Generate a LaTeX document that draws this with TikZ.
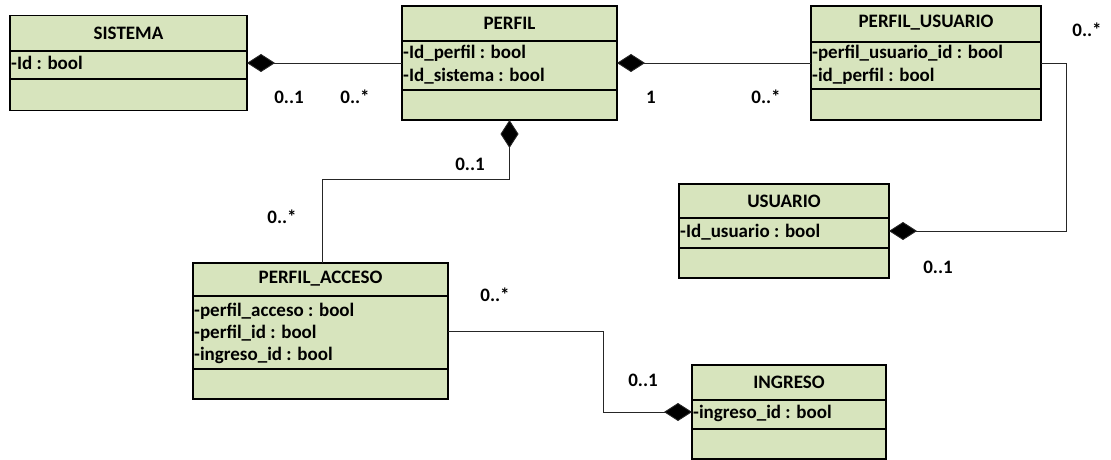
\documentclass[tikz,border=0pt]{standalone}
\usepackage{fontspec}
\setmainfont{Carlito}
\usetikzlibrary{arrows.meta}
\definecolor{boxfill}{HTML}{D7E4BD}
\definecolor{lineclr}{HTML}{262626}
\tikzset{
  cls/.style={draw=black, fill=boxfill, line width=1.4pt, inner sep=0pt, outer sep=0pt, anchor=north west},
  sepline/.style={draw=black, line width=1.4pt},
  ttl/.style={font=\fontsize{19}{22}\selectfont\bfseries, inner sep=0pt},
  attr/.style={font=\fontsize{19}{22}\selectfont\bfseries, inner sep=0pt, anchor=west, text height=13pt, text depth=4pt},
  mult/.style={font=\fontsize{19}{22}\selectfont\bfseries, inner sep=0pt},
  conn/.style={draw=lineclr, line width=0.9pt},
  compstart/.style={conn, {Diamond[length=28pt,width=18pt,fill=black]}-},
  compend/.style={conn, -{Diamond[length=28pt,width=18pt,fill=black]}},
}
\begin{document}
\begin{tikzpicture}[x=1pt,y=-1pt]
\useasboundingbox (0,0) rectangle (1111,460);
% SISTEMA
\node[cls, minimum width=237pt, minimum height=95pt] (sis) at (10,15.5) {};
\draw[sepline] (sis.west |- 0,51) -- (sis.east |- 0,51);
\draw[sepline] (sis.west |- 0,79) -- (sis.east |- 0,79);
\node[ttl] (sisT) at (128.5,33) {SISTEMA};
\node[attr] (sisA1) at (11,65) {-Id : bool};
% PERFIL
\node[cls, minimum width=215pt, minimum height=114pt] (per) at (402,6) {};
\draw[sepline] (per.west |- 0,41) -- (per.east |- 0,41);
\draw[sepline] (per.west |- 0,90) -- (per.east |- 0,90);
\node[ttl] (perT) at (509.5,23) {PERFIL};
\node[attr] (perA1) at (403,54) {-Id\_perfil : bool};
\node[attr] (perA2) at (403,77) {-Id\_sistema : bool};
% PERFIL_USUARIO
\node[cls, minimum width=230pt, minimum height=114pt] (pu) at (811,6) {};
\draw[sepline] (pu.west |- 0,42) -- (pu.east |- 0,42);
\draw[sepline] (pu.west |- 0,89) -- (pu.east |- 0,89);
\node[ttl] (puT) at (926,23) {PERFIL\_USUARIO};
\node[attr] (puA1) at (812,54) {-perfil\_usuario\_id : bool};
\node[attr] (puA2) at (812,77) {-id\_perfil : bool};
% USUARIO
\node[cls, minimum width=210pt, minimum height=94pt] (usu) at (679,184) {};
\draw[sepline] (usu.west |- 0,218) -- (usu.east |- 0,218);
\draw[sepline] (usu.west |- 0,248) -- (usu.east |- 0,248);
\node[ttl] (usuT) at (784,201) {USUARIO};
\node[attr] (usuA1) at (680,233) {-Id\_usuario : bool};
% PERFIL_ACCESO
\node[cls, minimum width=255pt, minimum height=136pt] (pac) at (193,263) {};
\draw[sepline] (pac.west |- 0,296) -- (pac.east |- 0,296);
\draw[sepline] (pac.west |- 0,369) -- (pac.east |- 0,369);
\node[ttl] (pacT) at (320.5,279) {PERFIL\_ACCESO};
\node[attr] (pacA1) at (194,312) {-perfil\_acceso : bool};
\node[attr] (pacA2) at (194,334) {-perfil\_id : bool};
\node[attr] (pacA3) at (194,356) {-ingreso\_id : bool};
% INGRESO
\node[cls, minimum width=194pt, minimum height=94pt] (ing) at (692,365) {};
\draw[sepline] (ing.west |- 0,400) -- (ing.east |- 0,400);
\draw[sepline] (ing.west |- 0,429) -- (ing.east |- 0,429);
\node[ttl] (ingT) at (789,382) {INGRESO};
\node[attr] (ingA1) at (693,414) {-ingreso\_id : bool};
% connectors
\coordinate (k1) at (322,179);
\coordinate (k2) at (1066,63);
\coordinate (k3) at (603,331);
\draw[compstart] (sis.east) -- (per.west);
\draw[compstart] (per.east) -- (pu.west);
\draw[compstart] (per.south) |- (k1) -- (k1 |- pac.north);
\draw[compend] (pu.east |- k2) -- (k2) |- (usu.east);
\draw[compend] (pac.east) -- (k3) |- (ing.west);
% multiplicities
\node[mult] (m1) at (289,97) {0..1};
\node[mult] (m2) at (355,97) {0..*};
\node[mult] (m3) at (651,97) {1};
\node[mult] (m4) at (766,97) {0..*};
\node[mult] (m5) at (470,164) {0..1};
\node[mult] (m6) at (282,217) {0..*};
\node[mult] (m7) at (1087,30) {0..*};
\node[mult] (m8) at (938,267) {0..1};
\node[mult] (m9) at (495,295) {0..*};
\node[mult] (m10) at (643,380) {0..1};
\end{tikzpicture}
\end{document}
